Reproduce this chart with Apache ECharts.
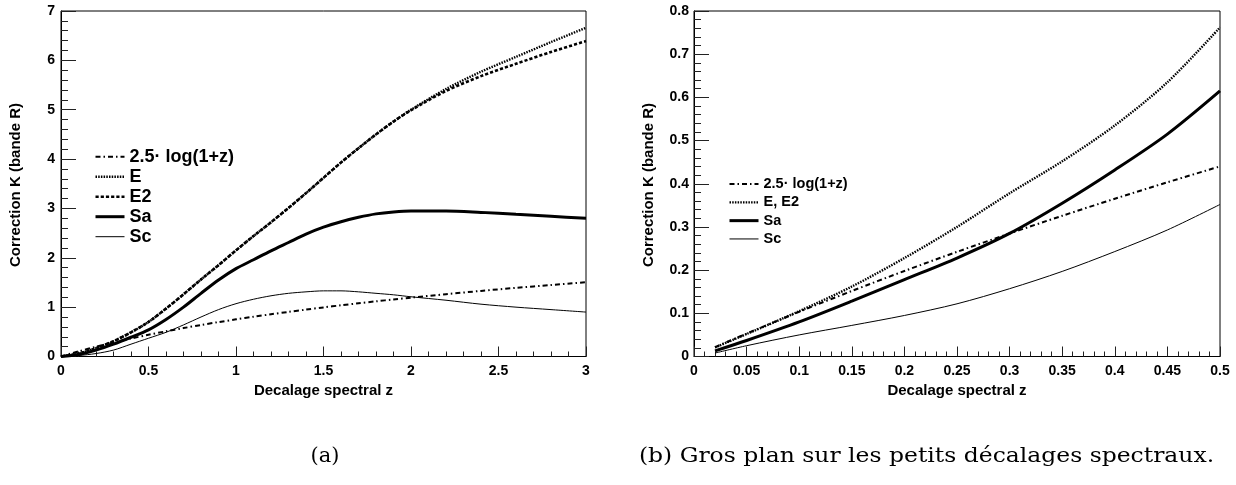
<!DOCTYPE html>
<html><head><meta charset="utf-8">
<script src="https://cdn.jsdelivr.net/npm/echarts@6/dist/echarts.min.js"></script>
<style>html,body{margin:0;padding:0;background:#fff}#c{width:1236px;height:485px}</style>
</head><body><div id="c"></div>
<script>
// ---- Panel (a): full redshift range ----
const zA   = [0,0.1,0.2,0.3,0.4,0.5,0.6,0.7,0.8,0.9,1.0,1.1,1.2,1.3,1.4,1.5,1.6,1.7,1.8,1.9,2.0,2.2,2.4,2.6,2.8,3.0];
const logA = [0,0.103,0.198,0.285,0.365,0.440,0.510,0.576,0.638,0.697,0.753,0.806,0.856,0.904,0.950,0.995,1.037,1.078,1.118,1.156,1.193,1.263,1.329,1.391,1.449,1.505];
const eA   = [0,0.06,0.17,0.31,0.49,0.70,0.97,1.26,1.56,1.85,2.15,2.44,2.72,3.01,3.31,3.62,3.93,4.22,4.50,4.76,5.00,5.42,5.77,6.07,6.37,6.66];
const e2A  = [0,0.06,0.17,0.31,0.49,0.70,0.97,1.26,1.56,1.85,2.15,2.44,2.72,3.01,3.31,3.62,3.93,4.22,4.50,4.76,4.99,5.38,5.68,5.93,6.17,6.39];
const saA  = [0,0.04,0.13,0.25,0.39,0.54,0.75,1.00,1.28,1.55,1.78,1.96,2.14,2.31,2.48,2.62,2.73,2.82,2.89,2.93,2.95,2.95,2.92,2.88,2.84,2.80];
const scA  = [0,0.02,0.06,0.13,0.25,0.37,0.49,0.64,0.80,0.95,1.07,1.16,1.23,1.28,1.31,1.33,1.33,1.31,1.28,1.25,1.21,1.14,1.06,1.00,0.95,0.90];

// ---- Panel (b): small redshifts ----
const zB   = [0.02,0.05,0.1,0.15,0.2,0.25,0.3,0.35,0.4,0.45,0.5];
const logB = [0.0215,0.053,0.1035,0.1517,0.198,0.2423,0.2849,0.3258,0.3653,0.4034,0.4402];
const eB   = [0.021,0.052,0.105,0.162,0.228,0.300,0.378,0.452,0.535,0.635,0.762];
const saB  = [0.013,0.037,0.080,0.128,0.178,0.228,0.285,0.355,0.432,0.515,0.615];
const scB  = [0.008,0.025,0.050,0.072,0.095,0.122,0.157,0.197,0.243,0.293,0.352];

const namesA = ['2.5\u00b7 log(1+z)','E','E2','Sa','Sc'];
const namesB = ['2.5\u00b7 log(1+z)','E, E2','Sa','Sc'];
const yTitle = 'Correction K (bande R)';
const xTitle = 'Decalage spectral z';
const capA = '(a)';
const capB = '(b) Gros plan sur les petits d\u00e9calages spectraux.';

const FONT = '"Liberation Sans", Arial, Helvetica, sans-serif';
const ST = {
  log: {color:'#000', width:2, type:[5,3,1.5,3]},
  e:   {color:'#000', width:2.4, type:[1.5,1.2]},
  e2:  {color:'#000', width:2.6, type:[3.2,2]},
  sa:  {color:'#000', width:3, type:'solid'},
  sc:  {color:'#000', width:1, type:'solid'}
};
const HIDE = {opacity:0, color:'transparent', borderWidth:0};
const pairs = (xs, ys) => xs.map((x,i)=>[x, ys[i]]);
function ser(name, xs, ys, st, idx){
  return {name, type:'line', xAxisIndex:idx, yAxisIndex:idx, data:pairs(xs,ys),
    symbol:'none', showSymbol:false, smooth:0.3, lineStyle:st, itemStyle:{color:'#000'},
    emphasis:{disabled:true}, silent:true, animation:false, z:3};
}
function xAx(idx, max, interval){
  return {type:'value', gridIndex:idx, min:0, max, interval,
    axisLine:{show:true, onZero:false, lineStyle:{color:'#000', width:1}},
    axisTick:{show:true, inside:true, length:10, lineStyle:{color:'#222'}},
    minorTick:{show:true, splitNumber:5, length:5, lineStyle:{color:'#222'}},
    splitLine:{show:false}, minorSplitLine:{show:false},
    axisLabel:{color:'#000', fontFamily:FONT, fontWeight:'bold', fontSize:14, margin:8}};
}
function yAx(idx, max, interval, margin){
  return {type:'value', gridIndex:idx, min:0, max, interval,
    axisLine:{show:true, onZero:false, lineStyle:{color:'#000', width:1}},
    axisTick:{show:true, inside:true, length:15, lineStyle:{color:'#222'}},
    minorTick:{show:true, splitNumber:5, length:7, lineStyle:{color:'#222'}},
    splitLine:{show:false}, minorSplitLine:{show:false},
    axisLabel:{color:'#000', fontFamily:FONT, fontWeight:'bold', fontSize:14, margin}};
}
function txt(x, y, text, font, rot, sx){
  return {type:'text', x, y, rotation:rot||0, scaleX:sx||1, silent:true,
    style:{text, font, fill:'#000', textAlign:'center', textVerticalAlign:'middle', align:'center', verticalAlign:'middle'}};
}

const chart = echarts.init(document.getElementById('c'), null, {renderer:'canvas'});
chart.setOption({
  animation:false,
  backgroundColor:'#fff',
  grid:[
    {left:61, top:11, width:525, height:345.5, show:true, borderColor:'#000', borderWidth:1, backgroundColor:'transparent'},
    {left:694, top:11, width:526, height:345.5, show:true, borderColor:'#000', borderWidth:1, backgroundColor:'transparent'}
  ],
  xAxis:[xAx(0,3,0.5), xAx(1,0.5,0.05)],
  yAxis:[yAx(0,7,1,6), yAx(1,0.8,0.1,5)],
  legend:[
    {orient:'vertical', left:94, top:146.7, padding:0, itemWidth:29, itemHeight:14, itemGap:0, selectedMode:false,
     textStyle:{fontFamily:FONT, fontWeight:'bold', fontSize:18, lineHeight:20, color:'#000'},
     data:[
       {name:namesA[0], lineStyle:ST.log, itemStyle:HIDE},
       {name:namesA[1], lineStyle:ST.e, itemStyle:HIDE},
       {name:namesA[2], lineStyle:ST.e2, itemStyle:HIDE},
       {name:namesA[3], lineStyle:ST.sa, itemStyle:HIDE},
       {name:namesA[4], lineStyle:ST.sc, itemStyle:HIDE}]},
    {orient:'vertical', left:728, top:174.9, padding:0, itemWidth:29, itemHeight:14, itemGap:0, selectedMode:false,
     textStyle:{fontFamily:FONT, fontWeight:'bold', fontSize:14.5, lineHeight:18.3, color:'#000'},
     data:[
       {name:namesB[0], lineStyle:ST.log, itemStyle:HIDE},
       {name:namesB[1], lineStyle:ST.e, itemStyle:HIDE},
       {name:namesB[2], lineStyle:ST.sa, itemStyle:HIDE},
       {name:namesB[3], lineStyle:ST.sc, itemStyle:HIDE}]}
  ],
  series:[
    ser(namesA[0], zA, logA, ST.log, 0),
    ser(namesA[1], zA, eA, ST.e, 0),
    ser(namesA[2], zA, e2A, ST.e2, 0),
    ser(namesA[3], zA, saA, ST.sa, 0),
    ser(namesA[4], zA, scA, ST.sc, 0),
    ser(namesB[0], zB, logB, ST.log, 1),
    ser(namesB[1], zB, eB, ST.e, 1),
    ser(namesB[2], zB, saB, ST.sa, 1),
    ser(namesB[3], zB, scB, ST.sc, 1)
  ],
  graphic:[
    txt(16, 185, yTitle, 'bold 15px ' + FONT, Math.PI/2),
    txt(649, 185, yTitle, 'bold 15px ' + FONT, Math.PI/2),
    txt(323.5, 391, xTitle, 'bold 15px ' + FONT),
    txt(957, 391, xTitle, 'bold 15px ' + FONT),
    txt(325, 457, capA, '21px "DejaVu Serif", serif', 0, 1.0),
    txt(926.5, 457, capB, '21px "DejaVu Serif", serif', 0, 1.117)
  ]
});
</script></body></html>
